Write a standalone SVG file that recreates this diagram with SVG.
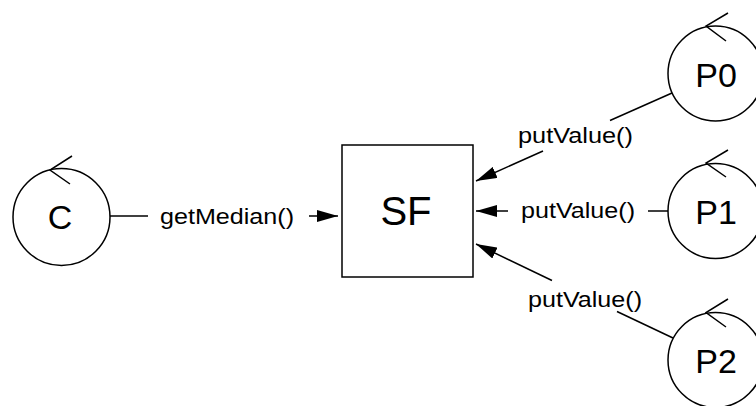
<svg xmlns="http://www.w3.org/2000/svg" width="756" height="406" viewBox="0 0 756 406">
<style>
.shape{fill:#fff;stroke:#000;stroke-width:1.5}
.chev{fill:none;stroke:#000;stroke-width:1.5;stroke-linejoin:miter}
.big{font-family:"Liberation Sans",Arial,sans-serif;font-size:34px;fill:#000;text-anchor:middle}
.lbl{font-family:"Liberation Sans",Arial,sans-serif;font-size:22px;fill:#000}
.con{fill:none;stroke:#000;stroke-width:1.5}
</style>
<defs>
<marker id="ah" markerUnits="userSpaceOnUse" markerWidth="21" markerHeight="12" viewBox="0 0 21 12" refX="21" refY="6" orient="auto">
<path d="M0,0 L21,6 L0,12 Z" fill="#000"/>
</marker>
</defs>
<rect width="756" height="406" fill="#fff"/>
<g id="connectors">
<path class="con" d="M110,216 H148"/>
<path class="con" d="M309,216 H338" marker-end="url(#ah)"/>
<path class="con" d="M668,211 H648"/>
<path class="con" d="M508,211 H476" marker-end="url(#ah)"/>
<path class="con" d="M672,93 L610,120.5"/>
<path class="con" d="M543,151 L476,181" marker-end="url(#ah)"/>
<path class="con" d="M673,338 L617,311.5"/>
<path class="con" d="M552,280.5 L476,244" marker-end="url(#ah)"/>
<text class="lbl" x="160" y="223.5" textLength="134" lengthAdjust="spacingAndGlyphs">getMedian()</text>
<text class="lbl" x="521" y="218" textLength="114" lengthAdjust="spacingAndGlyphs">putValue()</text>
<text class="lbl" x="518" y="142.5" textLength="115" lengthAdjust="spacingAndGlyphs">putValue()</text>
<text class="lbl" x="528" y="306.5" textLength="114" lengthAdjust="spacingAndGlyphs">putValue()</text>
</g>
<g id="C">
<circle class="shape" cx="61.5" cy="217" r="48.5"/>
<path class="chev" d="M72,156 L50,170 L70,184"/>
<text class="big" x="60" y="229">C</text>
</g>
<g id="SF">
<rect class="shape" x="342" y="145" width="131" height="132"/>
<text class="big" x="406" y="225" style="font-size:40px">SF</text>
</g>
<g id="P0">
<circle class="shape" cx="715.5" cy="73.5" r="47.5"/>
<path class="chev" d="M728,13 L706,26 L726,41"/>
<text class="big" x="716" y="86.5">P0</text>
</g>
<g id="P1">
<circle class="shape" cx="715.5" cy="211" r="47.5"/>
<path class="chev" d="M728,150 L706,163 L726,177"/>
<text class="big" x="716" y="223.5">P1</text>
</g>
<g id="P2">
<circle class="shape" cx="715.5" cy="360" r="47.5"/>
<path class="chev" d="M728,299 L706,312.5 L726,327"/>
<text class="big" x="716" y="373">P2</text>
</g>
</svg>
